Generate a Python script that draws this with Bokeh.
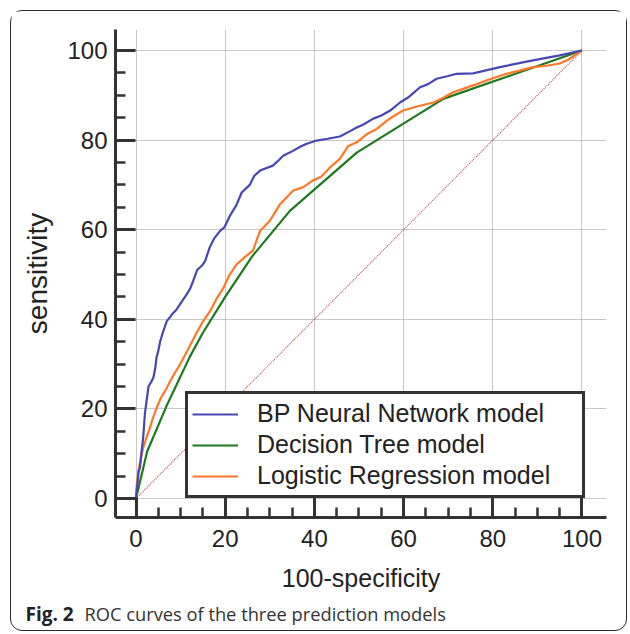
from bokeh.plotting import figure
from bokeh.models import Range1d, FixedTicker, Legend, LegendItem, Div
from bokeh.layouts import column
from bokeh.embed import file_html
from bokeh.resources import INLINE

# ---- data ----
bp_x = [0, 0.3, 0.6, 0.9, 1.3, 1.6, 2.0, 2.4, 2.8, 3.4, 3.9, 4.3, 4.6, 5.0, 5.4, 6.0, 6.9,
        8.0, 9.1, 10.3, 11.4, 12.2, 12.8, 13.7, 14.8, 15.5, 16.5, 17.5, 18.8, 19.8, 21.0,
        22.5, 23.7, 25.5, 26.5, 27.8, 30.7, 32.0, 33.0, 35.2, 36.8, 38.3, 40.5, 43.0, 45.7,
        48.0, 49.5, 51.0, 53.2, 55.0, 57.0, 59.2, 61.0, 63.7, 65.5, 67.4, 70.0, 71.9, 75.6,
        81.6, 89.0, 95.0, 100]
bp_y = [0, 3, 6, 7, 11, 13.5, 19, 22, 25, 26, 27, 29, 31.5, 33, 35, 37, 39.6,
        41, 42.2, 44, 45.6, 47, 48.5, 51, 52, 53, 56, 58, 59.7, 60.5, 63,
        65.5, 68.3, 70, 72, 73.2, 74.3, 75.5, 76.5, 77.6, 78.5, 79.2, 79.9, 80.3, 80.8,
        82, 82.8, 83.5, 84.8, 85.5, 86.6, 88.4, 89.5, 91.8, 92.5, 93.7, 94.3, 94.8, 94.9,
        96.3, 97.8, 98.9, 100]

dt_x = [0, 2.5, 7, 12, 15, 20, 26, 34.5, 49.5, 68.9, 100]
dt_y = [0, 10.5, 21, 31.5, 37, 45, 54, 64.2, 77.2, 89.2, 100]

lr_x = [0, 0.1, 0.5, 1.0, 1.6, 2.3, 3.1, 3.8, 4.6, 5.6, 6.9, 8.4, 9.9, 11.5, 13.6, 15.0,
        16.6, 18.0, 19.6, 21.0, 22.6, 24.5, 26.2, 27.8, 30.0, 32.3, 35.2, 37.5, 39.5, 41.5,
        43.5, 45.7, 47.6, 49.5, 51.7, 54.0, 56.2, 58.0, 59.9, 63.0, 66.7, 69.0, 71.1, 73.5,
        76.4, 80.0, 83.1, 86.0, 89.0, 92.0, 95.0, 97.0, 100]
lr_y = [0, 2.3, 6, 8.5, 11.3, 13.5, 15.7, 18, 20.2, 22.5, 24.7, 27.5, 30, 33, 37, 39.5,
        41.8, 44.5, 47, 50, 52.3, 54, 55.3, 59.7, 62, 65.7, 68.7, 69.5, 70.9, 71.8,
        73.9, 75.8, 78.7, 79.5, 81.3, 82.5, 84.3, 85.5, 86.6, 87.5, 88.4, 89.5, 90.7, 91.5,
        92.5, 93.8, 94.8, 95.5, 96.3, 96.6, 97.1, 98, 100]

diag_x = [0, 100]
diag_y = [0, 100]

major_ticks = [0, 20, 40, 60, 80, 100]
minor_ticks = [5, 10, 15, 25, 30, 35, 45, 50, 55, 65, 70, 75, 85, 90, 95]

series_labels = ["BP Neural Network model", "Decision Tree model", "Logistic Regression model"]
x_title = "100-specificity"
y_title = "sensitivity"
caption_bold = "Fig. 2"
caption_text = "ROC curves of the three prediction models"

# ---- figure ----
p = figure(width=615, height=594, output_backend="svg", toolbar_location=None,
           x_range=Range1d(-4.6, 105.5), y_range=Range1d(-4.24, 104.69),
           min_border_left=104, min_border_right=20, min_border_top=18, min_border_bottom=88)
p.outline_line_color = None
p.background_fill_color = "white"
p.border_fill_color = "white"

ticker = FixedTicker(ticks=major_ticks, minor_ticks=minor_ticks)
for ax in (p.xaxis[0], p.yaxis[0]):
    ax.ticker = ticker
    ax.axis_line_width = 3
    ax.axis_line_color = "#333333"
    ax.major_tick_in = 20
    ax.major_tick_out = 0
    ax.major_tick_line_width = 3
    ax.major_tick_line_color = "#333333"
    ax.minor_tick_in = 10
    ax.minor_tick_out = 0
    ax.minor_tick_line_width = 2.5
    ax.minor_tick_line_color = "#333333"
    ax.major_label_text_font = "Liberation Sans"
    ax.major_label_text_font_size = "24px"
    ax.major_label_text_color = "#222222"
    ax.axis_label_text_font = "Liberation Sans"
    ax.axis_label_text_font_size = "25px"
    ax.axis_label_text_font_style = "normal"
    ax.axis_label_text_color = "#222222"

p.xaxis[0].axis_label = x_title
p.yaxis[0].axis_label = y_title
p.yaxis[0].axis_label_text_font_size = "28px"
p.xaxis[0].major_label_standoff = 12
p.yaxis[0].major_label_standoff = 8
p.xaxis[0].axis_label_standoff = 14
p.yaxis[0].axis_label_standoff = 11

for g in (p.xgrid[0], p.ygrid[0]):
    g.ticker = ticker
    g.grid_line_color = "#909090"
    g.grid_line_dash = "1 1"
    g.grid_line_width = 1

p.line(diag_x, diag_y, line_color="#c05858", line_width=1.2, line_dash="1 1")
r_dt = p.line(dt_x, dt_y, line_color="#1e781e", line_width=2.2)
r_lr = p.line(lr_x, lr_y, line_color="#ff7828", line_width=2.2)
r_bp = p.line(bp_x, bp_y, line_color="#4646b4", line_width=2.2)

legend = Legend(items=[LegendItem(label=series_labels[0], renderers=[r_bp]),
                       LegendItem(label=series_labels[1], renderers=[r_dt]),
                       LegendItem(label=series_labels[2], renderers=[r_lr])],
                location=(70, 19))
legend.label_text_font = "Liberation Sans"
legend.label_text_font_size = "25px"
legend.label_text_color = "#222222"
legend.glyph_width = 46
legend.label_standoff = 19
legend.padding = 4
legend.spacing = 0
legend.label_height = 31
legend.label_width = 321
legend.margin = 0
legend.border_line_color = "#333333"
legend.border_line_width = 3
legend.border_line_alpha = 1
legend.background_fill_color = "white"
legend.background_fill_alpha = 1
p.add_layout(legend)

cap = Div(text=('<div style="padding:1px 0 0 14.5px; font-family:\'Open Sans\'; '
                'font-size:18.3px; line-height:16px; color:#333333; white-space:nowrap">'
                '<b style="color:#222222; font-size:19px; margin-right:6px">' + caption_bold +
                '</b> ' + caption_text + '</div>'),
          width=615, height=25, margin=0)

layout = column(p, cap, margin=(10, 0, 0, 10), spacing=0,
                styles={"border": "1.5px solid #2a2a2a", "border-radius": "12px",
                        "background": "white"})

open("out.html", "w").write(file_html(layout, INLINE))
